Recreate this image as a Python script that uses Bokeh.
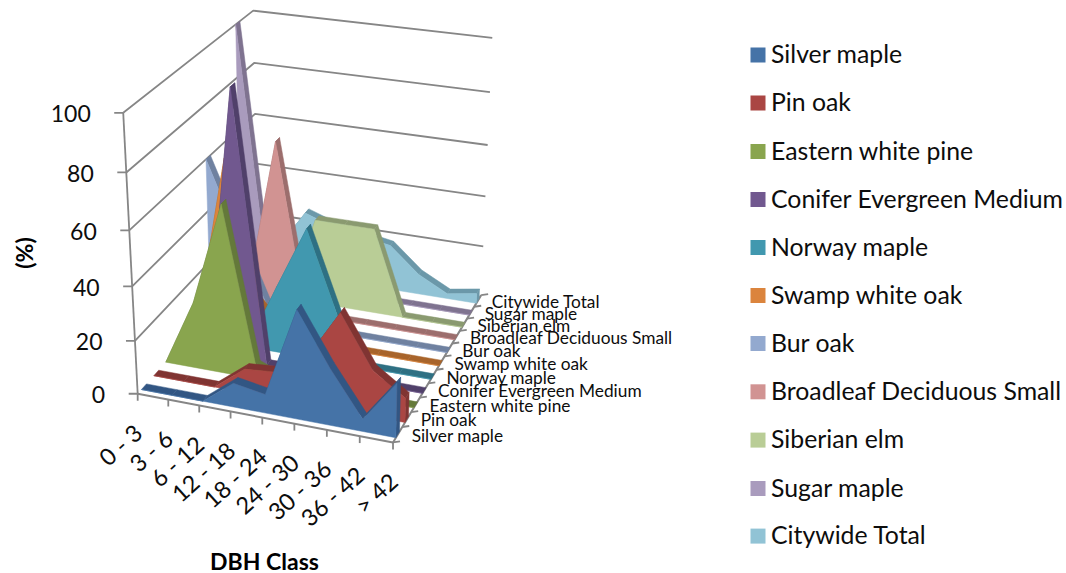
from math import pi

import numpy as np
from bokeh.core.properties import value
from bokeh.embed import file_html
from bokeh.models import ColumnDataSource
from bokeh.plotting import figure
from bokeh.resources import INLINE

# Share of each species' trees per DBH class, in percent.
dbh_classes = ["0 - 3", "3 - 6", "6 - 12", "12 - 18", "18 - 24", "24 - 30", "30 - 36", "36 - 42", "> 42"]
silver_maple = [0, 0, 0, 9, 7, 40, 21, 4.5, 20]
pin_oak = [0, 0, 0, 9, 10, 18, 36, 17, 9]
eastern_white_pine = [0, 25, 63, 5, 0, 0, 0, 0, 0]
conifer_evergreen_medium = [0, 0, 100, 0, 0, 0, 0, 0, 0]
norway_maple = [0, 0, 0, 25, 49, 18, 0, 0, 0]
swamp_white_oak = [6, 66, 13, 0, 0, 0, 0, 0, 0]
bur_oak = [60, 33, 6, 0, 0, 0, 0, 0, 0]
broadleaf_deciduous_small = [0, 8, 66, 0, 0, 0, 0, 0, 0]
siberian_elm = [0, 0, 0, 33.3, 33.3, 33.3, 0, 0, 0]
sugar_maple = [100, 0, 0, 0, 0, 0, 0, 0, 0]
citywide_total = [5, 10, 26, 22, 20, 18, 8, 2, 4]

series_names = ["Silver maple", "Pin oak", "Eastern white pine", "Conifer Evergreen Medium",
                "Norway maple", "Swamp white oak", "Bur oak", "Broadleaf Deciduous Small",
                "Siberian elm", "Sugar maple", "Citywide Total"]
series_values = [silver_maple, pin_oak, eastern_white_pine, conifer_evergreen_medium,
                 norway_maple, swamp_white_oak, bur_oak, broadleaf_deciduous_small,
                 siberian_elm, sugar_maple, citywide_total]
fill_colors = ["#4573A7", "#AA4643", "#89A54E", "#71588F", "#4198AF", "#DB843D",
               "#93A9CF", "#D19392", "#B9CD96", "#A99BBD", "#91C3D5"]
top_colors = ["#325683", "#803432", "#64793A", "#50406A", "#2E7083", "#A8642B",
              "#6F81A0", "#9C6E6D", "#8A9A70", "#7F7390", "#6B98A9"]
value_ticks = [0, 20, 40, 60, 80, 100]

FONT = "Lato"
AXIS_GREY = "#868686"
SLAB_DEPTH = 0.4   # slab thickness as a fraction of the spacing between series

# Camera calibration: frame positions (class fraction, series fraction, height) and
# where they fall on the page; a projective camera is fitted through them.
camera_fit = [
    ((0, 0, 0), (137, 393)), ((0, 0, .2), (135, 340)), ((0, 0, .4), (132, 286)),
    ((0, 0, .6), (129, 230)), ((0, 0, .8), (126, 172)), ((0, 0, 1), (123, 111)),
    ((0, 1, 0), (258, 258)), ((0, 1, .6), (253, 114)), ((0, 1, .8), (253, 63)), ((0, 1, 1), (253, 10)),
    ((1, 1, 0), (483, 294)), ((1, 1, .2), (482, 246)), ((1, 1, .4), (485, 196)),
    ((1, 1, .6), (487, 145)), ((1, 1, .8), (490, 91)), ((1, 1, 1), (492, 38)),
    ((1, 0, 0), (393, 442)), ((.5, 0, 0), (262, 418)),
    ((1, .5, 0), (437, 362)), ((0, 1 / 22, 0), (143, 387)),
]


def fit_camera(pairs):
    rows = []
    for (a, b, c), (u, v) in pairs:
        u, v = u / 500, v / 500
        rows.append([a, b, c, 1, 0, 0, 0, 0, -u * a, -u * b, -u * c, -u])
        rows.append([0, 0, 0, 0, a, b, c, 1, -v * a, -v * b, -v * c, -v])
    return np.linalg.svd(np.array(rows, float))[2][-1].reshape(3, 4)


CAMERA = fit_camera(camera_fit)


def project(a, b, c):
    """Page position of a point given as class fraction, series fraction and height fraction."""
    a, b, c = np.broadcast_arrays(np.asarray(a, float), np.asarray(b, float), np.asarray(c, float))
    pts = np.stack([a, b, c, np.ones_like(a)], axis=-1) @ CAMERA.T
    return (pts[..., 0] / pts[..., 2] * 500).tolist(), (pts[..., 1] / pts[..., 2] * 500).tolist()


p = figure(width=1066, height=573, x_range=(0, 1066), y_range=(573, 0),
           toolbar_location=None, output_backend="svg", min_border=0)
p.axis.visible = False
p.grid.visible = False
p.outline_line_color = None
p.background_fill_color = "white"
p.border_fill_color = "white"

n_classes = len(dbh_classes)
n_series = len(series_names)
class_pos = np.arange(n_classes) / (n_classes - 1)

# Gridlines on the left and back walls.
for tick in value_ticks:
    z = tick / 100
    xs, ys = project([0, 0, 1], [0, 1, 1], [z, z, z])
    if tick > 0:
        p.line(xs, ys, line_color=AXIS_GREY, line_width=1.8)

# Frame: height axis, class axis, series axis.
xs, ys = project([0, 0], [0, 0], [0, 1])
p.line(xs, ys, line_color=AXIS_GREY, line_width=1.8)
xs, ys = project([0, 1, 1], [0, 0, 1], [0, 0, 0])
p.line(xs, ys, line_color=AXIS_GREY, line_width=2)

# Each species is a slab, painted from the back row to the front row.
for i in range(n_series - 1, -1, -1):
    heights = np.array(series_values[i]) / 100
    front = (i + 0.5 - SLAB_DEPTH / 2) / n_series
    back = (i + 0.5 + SLAB_DEPTH / 2) / n_series
    for k in range(n_classes - 1):
        a = [class_pos[k], class_pos[k + 1], class_pos[k + 1], class_pos[k]]
        b = [front, front, back, back]
        c = [heights[k], heights[k + 1], heights[k + 1], heights[k]]
        xs, ys = project(a, b, c)
        p.patch(xs, ys, fill_color=top_colors[i], line_color=top_colors[i], line_width=0.5)
    xs, ys = project([1, 1, 1, 1], [front, back, back, front], [0, 0, heights[-1], heights[-1]])
    p.patch(xs, ys, fill_color=top_colors[i], line_color=top_colors[i], line_width=0.5)
    a = np.concatenate([[0], class_pos, [1]])
    c = np.concatenate([[0], heights, [0]])
    xs, ys = project(a, np.full_like(a, front), c)
    p.patch(xs, ys, fill_color=fill_colors[i], line_color=fill_colors[i], line_width=0.5)


def add_text(xs, ys, labels, size, align="left", baseline="middle", angle=0.0, style="normal", color="#0d0d0d"):
    source = ColumnDataSource(dict(x=xs, y=ys, label=labels))
    p.text("x", "y", text="label", source=source, text_font=value(FONT), text_font_size=size,
           text_align=align, text_baseline=baseline, angle=angle, text_font_style=style, text_color=color)


# Height axis ticks and labels.
tick_x, tick_y = project([0] * len(value_ticks), [0] * len(value_ticks), np.array(value_ticks) / 100)
for x, y in zip(tick_x, tick_y):
    p.line([x - 9, x], [y, y], line_color=AXIS_GREY, line_width=1.8)
add_text([x - 32.5 for x in tick_x], [y + 1 for y in tick_y], [str(t) for t in value_ticks], "23px", align="right")

# Class axis ticks and slanted labels.
tick_x, tick_y = project(class_pos, np.zeros(n_classes), np.zeros(n_classes))
for x, y in zip(tick_x, tick_y):
    p.line([x, x], [y, y + 7], line_color=AXIS_GREY, line_width=1.8)
add_text([x + 0.5 for x in tick_x], [y + 35 for y in tick_y], dbh_classes, "23.5px", align="right", angle=42 * pi / 180)

# Series axis ticks and labels.
edges = np.arange(n_series + 1) / n_series
tick_x, tick_y = project(np.ones(n_series + 1), edges, np.zeros(n_series + 1))
for x, y in zip(tick_x, tick_y):
    p.line([x, x + 7], [y, y - 1], line_color=AXIS_GREY, line_width=1.8)
centres = (np.arange(n_series) + 0.5) / n_series
lab_x, lab_y = project(np.ones(n_series), centres, np.zeros(n_series))
add_text([x + 14 for x in lab_x], [y + 0.5 for y in lab_y], series_names, "17.3px")

# Axis titles.
add_text([23], [252.5], ["(%)"], "23px", align="center", angle=pi / 2, style="bold", color="#000000")
add_text([264], [560], ["DBH Class"], "23px", align="center", style="bold", color="#000000")

# Legend.
legend_y = [54.5, 102.5, 151, 199, 247, 295, 343, 391.3, 439.6, 488, 535.6]
p.scatter([757.5] * n_series, legend_y, marker="square", size=15, fill_color=fill_colors, line_color=None)
add_text([770.5] * n_series, [y - 1.5 for y in legend_y], series_names, "24.8px")

open("out.html", "w").write(file_html(p, INLINE))
